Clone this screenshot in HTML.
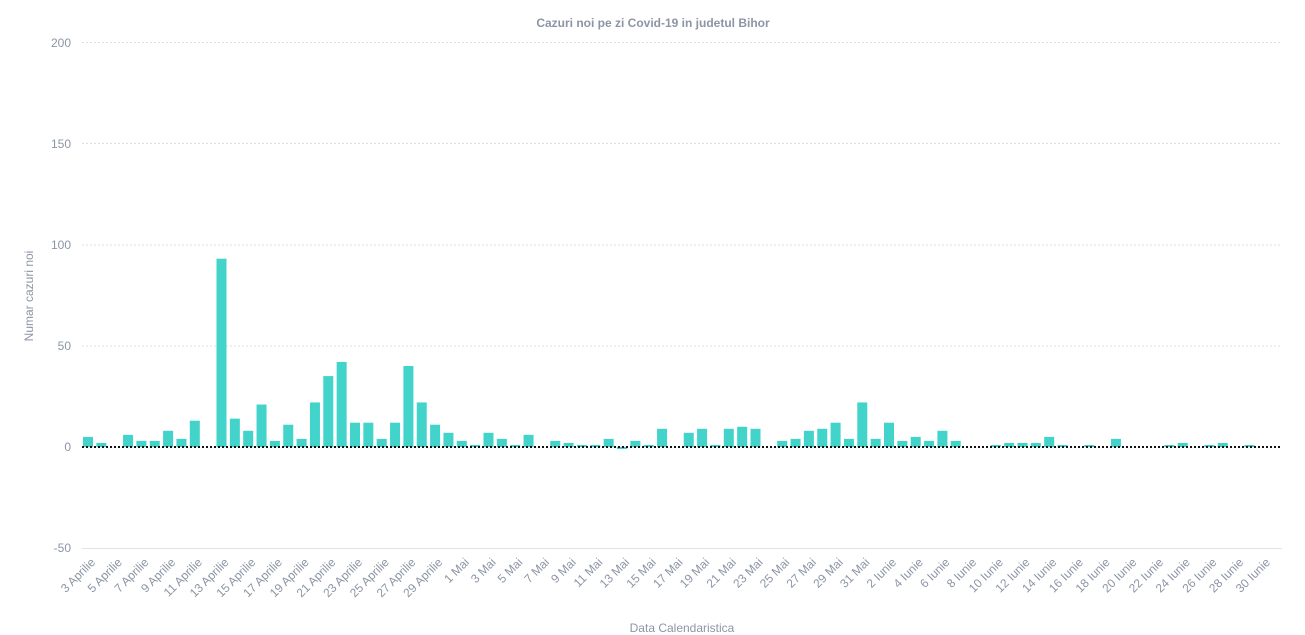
<!DOCTYPE html>
<html><head><meta charset="utf-8"><style>
html,body{margin:0;padding:0;background:#fff;}
svg{display:block;font-family:"Liberation Sans",sans-serif;}
.g{stroke:#dedede;stroke-width:1;stroke-dasharray:2,2;}
.yl{fill:#8c95a5;font-size:12px;text-anchor:end;}
.xl{fill:#8c95a5;font-size:12px;text-anchor:end;}
rect{fill:#42d3cb;}
</style></head><body>
<svg width="1305" height="635" viewBox="0 0 1305 635" xmlns="http://www.w3.org/2000/svg">
<text x="653" y="27" text-anchor="middle" font-size="12" font-weight="bold" fill="#8c95a5">Cazuri noi pe zi Covid-19 in judetul Bihor</text>
<line class="g" x1="82" x2="1282" y1="42.5" y2="42.5"/>
<line class="g" x1="82" x2="1282" y1="143.5" y2="143.5"/>
<line class="g" x1="82" x2="1282" y1="245" y2="245"/>
<line class="g" x1="82" x2="1282" y1="346" y2="346"/>
<line x1="82" x2="1282" y1="548.5" y2="548.5" stroke="#e2e2e2"/>
<text class="yl" x="71" y="47">200</text>
<text class="yl" x="71" y="148">150</text>
<text class="yl" x="71" y="249">100</text>
<text class="yl" x="71" y="350">50</text>
<text class="yl" x="71" y="451">0</text>
<text class="yl" x="71" y="552">-50</text>
<text x="33" y="296" transform="rotate(-90 33 296)" text-anchor="middle" font-size="12" fill="#8c95a5">Numar cazuri noi</text>
<text x="682" y="632" text-anchor="middle" font-size="12" fill="#8c95a5">Data Calendaristica</text>
<g>
<rect x="83" y="436.9" width="10" height="10.1"/>
<rect x="96.35" y="442.95" width="10" height="4.05"/>
<rect x="123.05" y="434.85" width="10" height="12.15"/>
<rect x="136.4" y="440.9" width="10" height="6.1"/>
<rect x="149.75" y="440.9" width="10" height="6.1"/>
<rect x="163.1" y="430.8" width="10" height="16.2"/>
<rect x="176.45" y="438.9" width="10" height="8.1"/>
<rect x="189.8" y="420.7" width="10" height="26.3"/>
<rect x="216.5" y="258.7" width="10" height="188.3"/>
<rect x="229.85" y="418.65" width="10" height="28.35"/>
<rect x="243.2" y="430.8" width="10" height="16.2"/>
<rect x="256.55" y="404.5" width="10" height="42.5"/>
<rect x="269.9" y="440.9" width="10" height="6.1"/>
<rect x="283.25" y="424.7" width="10" height="22.3"/>
<rect x="296.6" y="438.9" width="10" height="8.1"/>
<rect x="309.95" y="402.45" width="10" height="44.55"/>
<rect x="323.3" y="376.1" width="10" height="70.9"/>
<rect x="336.65" y="361.95" width="10" height="85.05"/>
<rect x="350" y="422.7" width="10" height="24.3"/>
<rect x="363.35" y="422.7" width="10" height="24.3"/>
<rect x="376.7" y="438.9" width="10" height="8.1"/>
<rect x="390.05" y="422.7" width="10" height="24.3"/>
<rect x="403.4" y="366" width="10" height="81"/>
<rect x="416.75" y="402.45" width="10" height="44.55"/>
<rect x="430.1" y="424.7" width="10" height="22.3"/>
<rect x="443.45" y="432.8" width="10" height="14.2"/>
<rect x="456.8" y="440.9" width="10" height="6.1"/>
<rect x="470.15" y="445" width="10" height="2"/>
<rect x="483.5" y="432.8" width="10" height="14.2"/>
<rect x="496.85" y="438.9" width="10" height="8.1"/>
<rect x="510.2" y="445" width="10" height="2"/>
<rect x="523.55" y="434.85" width="10" height="12.15"/>
<rect x="550.25" y="440.9" width="10" height="6.1"/>
<rect x="563.6" y="442.95" width="10" height="4.05"/>
<rect x="576.95" y="445" width="10" height="2"/>
<rect x="590.3" y="445" width="10" height="2"/>
<rect x="603.65" y="438.9" width="10" height="8.1"/>
<rect x="617" y="447" width="10" height="2"/>
<rect x="630.35" y="440.9" width="10" height="6.1"/>
<rect x="643.7" y="445" width="10" height="2"/>
<rect x="657.05" y="428.8" width="10" height="18.2"/>
<rect x="683.75" y="432.8" width="10" height="14.2"/>
<rect x="697.1" y="428.8" width="10" height="18.2"/>
<rect x="710.45" y="445" width="10" height="2"/>
<rect x="723.8" y="428.8" width="10" height="18.2"/>
<rect x="737.15" y="426.75" width="10" height="20.25"/>
<rect x="750.5" y="428.8" width="10" height="18.2"/>
<rect x="777.2" y="440.9" width="10" height="6.1"/>
<rect x="790.55" y="438.9" width="10" height="8.1"/>
<rect x="803.9" y="430.8" width="10" height="16.2"/>
<rect x="817.25" y="428.8" width="10" height="18.2"/>
<rect x="830.6" y="422.7" width="10" height="24.3"/>
<rect x="843.95" y="438.9" width="10" height="8.1"/>
<rect x="857.3" y="402.45" width="10" height="44.55"/>
<rect x="870.65" y="438.9" width="10" height="8.1"/>
<rect x="884" y="422.7" width="10" height="24.3"/>
<rect x="897.35" y="440.9" width="10" height="6.1"/>
<rect x="910.7" y="436.9" width="10" height="10.1"/>
<rect x="924.05" y="440.9" width="10" height="6.1"/>
<rect x="937.4" y="430.8" width="10" height="16.2"/>
<rect x="950.75" y="440.9" width="10" height="6.1"/>
<rect x="990.8" y="445" width="10" height="2"/>
<rect x="1004.15" y="442.95" width="10" height="4.05"/>
<rect x="1017.5" y="442.95" width="10" height="4.05"/>
<rect x="1030.85" y="442.95" width="10" height="4.05"/>
<rect x="1044.2" y="436.9" width="10" height="10.1"/>
<rect x="1057.55" y="445" width="10" height="2"/>
<rect x="1084.25" y="445" width="10" height="2"/>
<rect x="1110.95" y="438.9" width="10" height="8.1"/>
<rect x="1164.35" y="445" width="10" height="2"/>
<rect x="1177.7" y="442.95" width="10" height="4.05"/>
<rect x="1204.4" y="445" width="10" height="2"/>
<rect x="1217.75" y="442.95" width="10" height="4.05"/>
<rect x="1244.45" y="445" width="10" height="2"/>
</g>
<line x1="82" x2="1282" y1="447" y2="447" stroke="#111" stroke-width="2" stroke-dasharray="2,2"/>
<g class="xl" transform="translate(3,4)">
<text transform="translate(93,559) rotate(-45)">3 Aprilie</text>
<text transform="translate(119.7,559) rotate(-45)">5 Aprilie</text>
<text transform="translate(146.4,559) rotate(-45)">7 Aprilie</text>
<text transform="translate(173.1,559) rotate(-45)">9 Aprilie</text>
<text transform="translate(199.8,559) rotate(-45)">11 Aprilie</text>
<text transform="translate(226.5,559) rotate(-45)">13 Aprilie</text>
<text transform="translate(253.2,559) rotate(-45)">15 Aprilie</text>
<text transform="translate(279.9,559) rotate(-45)">17 Aprilie</text>
<text transform="translate(306.6,559) rotate(-45)">19 Aprilie</text>
<text transform="translate(333.3,559) rotate(-45)">21 Aprilie</text>
<text transform="translate(360,559) rotate(-45)">23 Aprilie</text>
<text transform="translate(386.7,559) rotate(-45)">25 Aprilie</text>
<text transform="translate(413.4,559) rotate(-45)">27 Aprilie</text>
<text transform="translate(440.1,559) rotate(-45)">29 Aprilie</text>
<text transform="translate(466.8,559) rotate(-45)">1 Mai</text>
<text transform="translate(493.5,559) rotate(-45)">3 Mai</text>
<text transform="translate(520.2,559) rotate(-45)">5 Mai</text>
<text transform="translate(546.9,559) rotate(-45)">7 Mai</text>
<text transform="translate(573.6,559) rotate(-45)">9 Mai</text>
<text transform="translate(600.3,559) rotate(-45)">11 Mai</text>
<text transform="translate(627,559) rotate(-45)">13 Mai</text>
<text transform="translate(653.7,559) rotate(-45)">15 Mai</text>
<text transform="translate(680.4,559) rotate(-45)">17 Mai</text>
<text transform="translate(707.1,559) rotate(-45)">19 Mai</text>
<text transform="translate(733.8,559) rotate(-45)">21 Mai</text>
<text transform="translate(760.5,559) rotate(-45)">23 Mai</text>
<text transform="translate(787.2,559) rotate(-45)">25 Mai</text>
<text transform="translate(813.9,559) rotate(-45)">27 Mai</text>
<text transform="translate(840.6,559) rotate(-45)">29 Mai</text>
<text transform="translate(867.3,559) rotate(-45)">31 Mai</text>
<text transform="translate(894,559) rotate(-45)">2 Iunie</text>
<text transform="translate(920.7,559) rotate(-45)">4 Iunie</text>
<text transform="translate(947.4,559) rotate(-45)">6 Iunie</text>
<text transform="translate(974.1,559) rotate(-45)">8 Iunie</text>
<text transform="translate(1000.8,559) rotate(-45)">10 Iunie</text>
<text transform="translate(1027.5,559) rotate(-45)">12 Iunie</text>
<text transform="translate(1054.2,559) rotate(-45)">14 Iunie</text>
<text transform="translate(1080.9,559) rotate(-45)">16 Iunie</text>
<text transform="translate(1107.6,559) rotate(-45)">18 Iunie</text>
<text transform="translate(1134.3,559) rotate(-45)">20 Iunie</text>
<text transform="translate(1161,559) rotate(-45)">22 Iunie</text>
<text transform="translate(1187.7,559) rotate(-45)">24 Iunie</text>
<text transform="translate(1214.4,559) rotate(-45)">26 Iunie</text>
<text transform="translate(1241.1,559) rotate(-45)">28 Iunie</text>
<text transform="translate(1267.8,559) rotate(-45)">30 Iunie</text>
</g>
</svg>
</body></html>
